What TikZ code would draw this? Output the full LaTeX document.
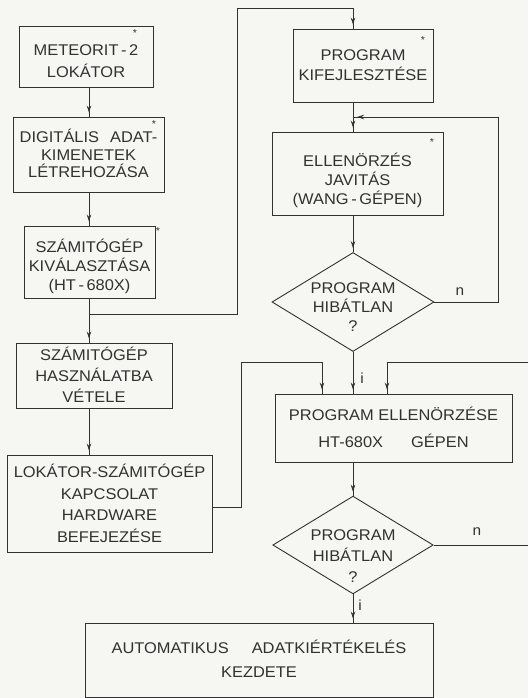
\documentclass[tikz,border=0pt]{standalone}
\usepackage{fontspec}
\setmainfont{Liberation Sans}[FakeStretch=1.06]
\usetikzlibrary{shapes.geometric,arrows.meta}
\definecolor{ink}{RGB}{50,50,50}
\definecolor{paper}{RGB}{246,246,243}
\tikzset{
  box/.style={draw=ink, line width=0.9pt, rectangle, inner sep=0pt, align=center, text=ink, text depth=0pt},
  dia/.style={draw=ink, line width=0.9pt, diamond, aspect=1.64, inner sep=-9pt, align=center, text=ink, text depth=0pt},
  conn/.style={draw=ink, line width=0.8pt},
  arr/.style={conn, postaction={draw=ink, line width=0.8pt, -{Stealth[length=7pt,width=4.5pt]}, shorten >=4pt}},
  ast/.style={text=ink, font=\fontsize{10}{10}\selectfont, inner sep=0pt},
  lbl/.style={text=ink, font=\fontsize{14.5}{14.5}\selectfont, inner sep=0pt},
}
\newcommand{\fs}[1]{\fontsize{15.5}{#1}\selectfont}
\begin{document}
\begin{tikzpicture}[x=1pt,y=-1pt]
\fill[paper] (0,0) rectangle (528,698);
\useasboundingbox (0,0) rectangle (528,698);

% left column
\node[box, font=\fs{22}, text height=42pt, minimum width=134pt, minimum height=61pt] (b1) at (86,56.5) {METEORIT\,-\,2\\LOKÁTOR};
\node[box, font=\fs{17.5}, text height=46pt, minimum width=151pt, minimum height=75pt] (b2) at (88.5,154.5) {DIGITÁLIS\hspace{11pt}ADAT-\\KIMENETEK\\LÉTREHOZÁSA};
\node[box, font=\fs{19}, text height=57pt, minimum width=131pt, minimum height=72pt] (b3) at (89.5,262) {SZÁMITÓGÉP\\KIVÁLASZTÁSA\\(HT\,-\,680X)};
\node[box, font=\fs{21}, text height=53pt, minimum width=156pt, minimum height=65pt] (b4) at (94,375.5) {SZÁMITÓGÉP\\HASZNÁLATBA\\VÉTELE};
\node[box, font=\fs{21.5}, text height=77.6pt, minimum width=205pt, minimum height=97pt] (b5) at (109.5,503.5) {LOKÁTOR-SZÁMITÓGÉP\\KAPCSOLAT\\HARDWARE\\BEFEJEZÉSE};

% right column
\node[box, font=\fs{20}, text height=31pt, minimum width=140pt, minimum height=73pt] (k) at (363,65.5) {PROGRAM\\KIFEJLESZTÉSE};
\node[box, font=\fs{19}, text height=61pt, minimum width=171pt, minimum height=83pt] (e) at (357.5,173.5) {ELLENÖRZÉS\\JAVITÁS\\(WANG\,-\,GÉPEN)};
\node[dia, font=\fs{19}, text height=59pt, minimum width=162pt, minimum height=99pt] (d1) at (353,302) {PROGRAM\\HIBÁTLAN\\?};
\node[box, font=\fs{27}, text height=38pt, minimum width=237pt, minimum height=68pt] (p) at (393.5,428) {PROGRAM ELLENÖRZÉSE\\HT-680X\hspace{28pt}GÉPEN};
\node[dia, font=\fs{21}, text height=75pt, minimum width=160pt, minimum height=96pt] (d2) at (353,545) {PROGRAM\\HIBÁTLAN\\?};
\node[box, font=\fs{24}, text height=35pt, minimum width=348pt, minimum height=74pt] (a) at (259,660) {AUTOMATIKUS\hspace{23pt}ADATKIÉRTÉKELÉS\\KEZDETE};

% asterisks
\node[ast] (s1) at (135,33) {*};
\node[ast] (s2) at (154,124) {*};
\node[ast] (s3) at (158,231) {*};
\node[ast] (s4) at (423,40) {*};
\node[ast] (s5) at (432,142) {*};

% helper coordinates
\coordinate (cl) at (89,0);
\coordinate (cr) at (353,0);
\coordinate (j1) at (89,314);
\coordinate (t1) at (237,8);
\coordinate (fb) at (498,117);
\coordinate (lc) at (241,362);
\coordinate (rr) at (528,362);
\coordinate (re) at (528,548);

% left column arrows
\draw[arr] (b1.south -| cl) -- (b2.north -| cl);
\draw[arr] (b2.south -| cl) -- (b3.north -| cl);
\draw[arr] (b3.south -| cl) -- (b4.north -| cl);
\draw[arr] (b4.south -| cl) -- (b5.north -| cl);

% loop to program development
\draw[arr] (j1) -| (t1) -| (k.north -| cr);

% right column arrows
\draw[arr] (k.south -| cr) -- (e.north -| cr);
\draw[arr] (e.south -| cr) -- (d1.north);
\draw[arr] (d1.south) -- (p.north -| cr);
\draw[arr] (p.south -| cr) -- (d2.north);
\draw[arr] (d2.south) -- (a.north -| cr);

% feedback n
\draw[arr] (d1.east) -| (fb) -- (fb -| cr);

% hardware link
\draw[arr] ([yshift=-3.5pt]b5.east) -| (lc) -| ([xshift=-71.5pt]p.north);
% right input
\draw[arr] (rr) -| ([xshift=-6.5pt]p.north);
\draw[conn] (d2.east) -- (d2.east -| re);

% labels
\node[lbl] (n1) at (460,292) {n};
\node[lbl] (n2) at (477,532) {n};
\node[lbl] (i1) at (362,378) {i};
\node[lbl] (i2) at (360,605) {i};
\end{tikzpicture}
\end{document}
